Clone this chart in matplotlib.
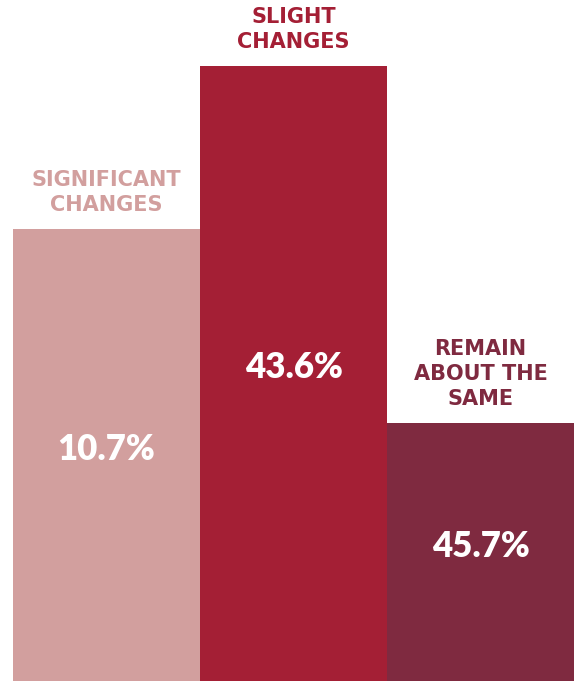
import matplotlib
matplotlib.use("Agg")
import matplotlib.pyplot as plt

categories = ["SIGNIFICANT\nCHANGES", "SLIGHT\nCHANGES", "REMAIN\nABOUT THE\nSAME"]
percent_labels = ["10.7%", "43.6%", "45.7%"]
# bar heights as drawn in the picture (share of the chart height)
bar_heights = [66.4, 90.3, 37.9]
colors = ["#D29F9E", "#A41F35", "#7F2A40"]

fig = plt.figure(figsize=(5.77, 6.81), dpi=100)
ax = fig.add_axes([0, 0, 1, 1])

x = list(range(len(categories)))
ax.bar(x, bar_heights, width=1.0, color=colors, linewidth=0)

ax.set_xlim(-0.5 - 13 / 187, 2.5 + 3 / 187)
ax.set_ylim(0, 100)
ax.axis("off")

for i, h in enumerate(bar_heights):
    ax.annotate(categories[i], (i, h), xytext=(0, 10), textcoords="offset points",
                ha="center", va="bottom", fontsize=15, fontweight="bold",
                family="DejaVu Sans", color=colors[i], linespacing=1.32)
    ax.annotate(percent_labels[i], (i, h / 2), xytext=(0, 4), textcoords="offset points",
                ha="center", va="center", fontsize=25, fontweight="heavy",
                family="Lato", color="white")

fig.savefig("out.png", dpi=100)
